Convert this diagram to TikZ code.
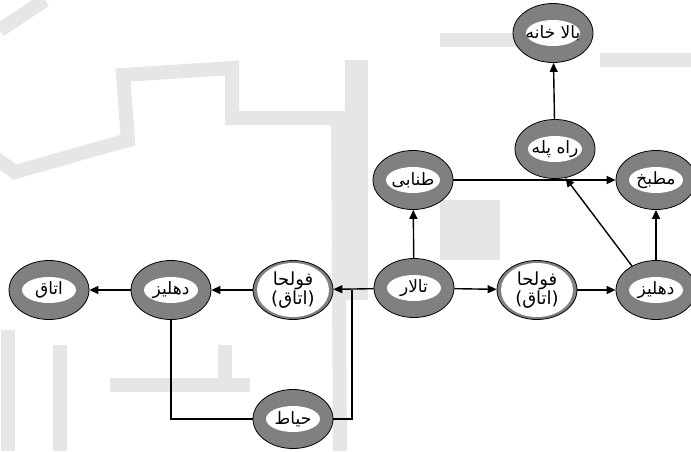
\documentclass[tikz,border=0pt]{standalone}
\usepackage{fontspec}
\newfontfamily\arfont[Script=Arabic]{DejaVu Sans}
\TeXXeTstate=1
\usetikzlibrary{shapes.geometric,arrows.meta}
\definecolor{ringgray}{RGB}{128,128,128}
\definecolor{wm}{RGB}{230,230,230}
\tikzset{
  room/.style={ellipse, draw=black, line width=0.8pt, fill=ringgray,
    minimum width=80pt, minimum height=59pt, inner sep=0pt,
    font=\arfont\fontsize{17}{18}\selectfont,
    path picture={\fill[white] (path picture bounding box.center) ellipse[x radius=27pt, y radius=13pt];}},
  wideroom/.style={room, align=center, font=\arfont\fontsize{18}{16}\selectfont,
    path picture={\fill[white] (path picture bounding box.center) ellipse[x radius=36pt, y radius=27pt];}},
  arr/.style={draw=black, line width=1.4pt, -{Triangle[length=9pt,width=8pt]}},
  link/.style={draw=black, line width=1.4pt},
  mark wm/.style={draw=wm, line width=14pt, line join=miter},
}
\begin{document}
\begin{tikzpicture}[x=1pt,y=-1pt]
\useasboundingbox (0,0) rectangle (691,451);
\fill[white] (0,0) rectangle (691,451);
% faint background watermark
\draw[mark wm] (-5,158) -- (15,172) -- (128,140) -- (123,75) -- (232,68) -- (232,118) -- (338,118) -- (340,451);
\draw[mark wm] (0,30) -- (45,0);
\draw[mark wm] (8,330) -- (8,451);
\draw[mark wm] (110,385) -- (250,385);
\draw[mark wm] (225,345) -- (225,390);
\draw[mark wm] (60,345) -- (60,451);
\draw[mark wm] (440,40) -- (520,40);
\draw[mark wm] (600,60) -- (691,60);
\fill[wm] (345,60) rectangle (368,300);
\fill[wm] (440,200) rectangle (500,260);
% nodes
\node[room] (balakhane) at (553,33) {\beginR بالا خانه\endR};
\node[room] (rahpele) at (555,149) {\beginR راه پله\endR};
\node[room] (matbakh) at (656,180) {\beginR مطبخ\endR};
\node[room] (tanabi) at (413,180) {\beginR طنابی\endR};
\node[room] (talar) at (414,288) {\beginR تالار\endR};
\node[wideroom] (folR) at (537,290) {\beginR فولحا\endR\\\beginR (اتاق)\endR};
\node[room] (dehR) at (656,290) {\beginR دهلیز\endR};
\node[wideroom] (folL) at (293,290) {\beginR فولحا\endR\\\beginR (اتاق)\endR};
\node[room] (dehL) at (171,290) {\beginR دهلیز\endR};
\node[room] (otagh) at (49,290) {\beginR اتاق\endR};
\node[room] (hayat) at (293,419) {\beginR حیاط\endR};
\coordinate (j) at (352,290);
% connectors
\draw[arr] (talar) -- (tanabi);
\draw[arr] (tanabi) -- (matbakh);
\draw[arr] (talar) -- (folR);
\draw[arr] (folR) -- (dehR);
\draw[arr] (dehR) -- (matbakh);
\draw[arr] (dehR.135) -- (rahpele.-70);
\draw[arr] (rahpele) -- (balakhane);
\draw[arr] (talar) -- (folL);
\draw[arr] (folL) -- (dehL);
\draw[arr] (dehL) -- (otagh);
\draw[link] (dehL.south) |- (hayat.west);
\draw[link] (hayat.east) -| (j);
\end{tikzpicture}
\end{document}
